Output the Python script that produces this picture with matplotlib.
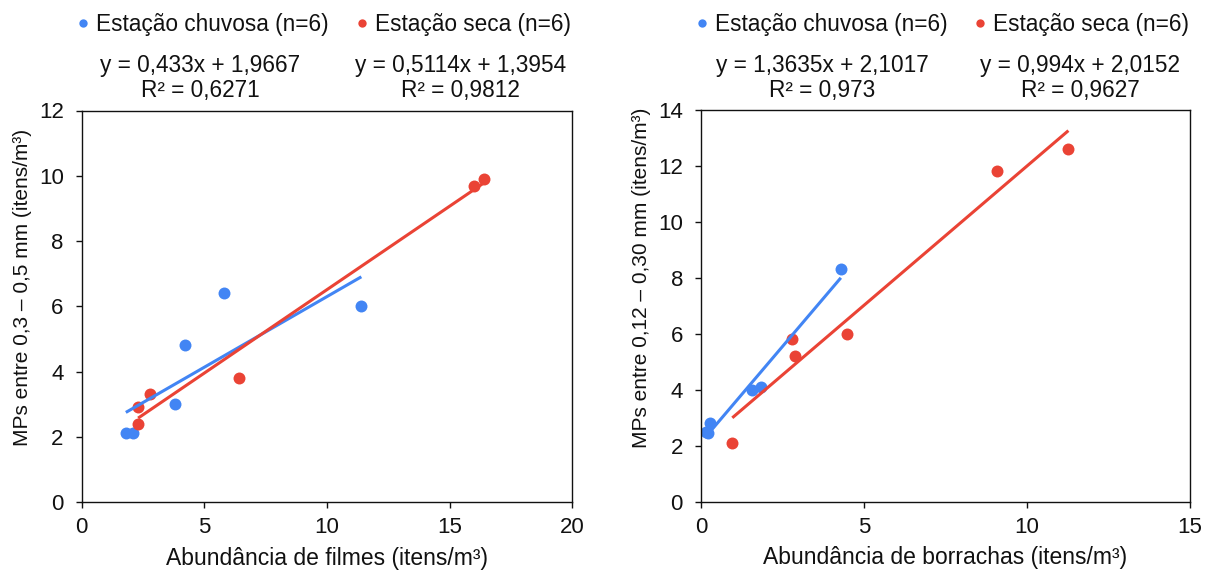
import numpy as np
import matplotlib
matplotlib.use("Agg")
import matplotlib.pyplot as plt
from matplotlib.lines import Line2D

plt.rcParams['font.family'] = ['Liberation Sans', 'DejaVu Sans']

# ---- data ----
# Left panel: filmes
filmes_chuvosa_x = [1.8, 2.1, 3.8, 4.2, 5.8, 11.4]
filmes_chuvosa_y = [2.1, 2.1, 3.0, 4.8, 6.4, 6.0]
filmes_seca_x = [2.3, 2.3, 2.8, 6.4, 16.0, 16.4]
filmes_seca_y = [2.4, 2.9, 3.3, 3.8, 9.7, 9.9]

# Right panel: borrachas
borr_chuvosa_x = [0.15, 0.22, 0.28, 1.57, 1.85, 4.29]
borr_chuvosa_y = [2.5, 2.45, 2.8, 4.0, 4.1, 8.3]
borr_seca_x = [0.96, 2.78, 2.88, 4.48, 9.07, 11.27]
borr_seca_y = [2.1, 5.8, 5.2, 6.0, 11.8, 12.6]

legend_labels = ["Estação chuvosa (n=6)", "Estação seca (n=6)"]
eq_left = [("y = 0,433x + 1,9667", "R² = 0,6271"), ("y = 0,5114x + 1,3954", "R² = 0,9812")]
eq_right = [("y = 1,3635x + 2,1017", "R² = 0,973"), ("y = 0,994x + 2,0152", "R² = 0,9627")]

xlabels = ["Abundância de filmes (itens/m³)", "Abundância de borrachas (itens/m³)"]
ylabels = ["MPs entre 0,3 – 0,5 mm (itens/m³)", "MPs entre 0,12 – 0,30 mm (itens/m³)"]
xticks_left = [0, 5, 10, 15, 20]
yticks_left = [0, 2, 4, 6, 8, 10, 12]
xticks_right = [0, 5, 10, 15]
yticks_right = [0, 2, 4, 6, 8, 10, 12, 14]

BLUE = '#4285F4'
RED = '#EA4335'
TXT = '#111111'

W, H = 1215, 573
fig = plt.figure(figsize=(W / 100, H / 100), dpi=100)

def fx(px):
    return px / W

def fy(py):
    return 1 - py / H

axL = fig.add_axes([fx(81.7), fy(502.0), fx(572.3) - fx(81.7), fy(110.5) - fy(502.0)])
axR = fig.add_axes([fx(701.0), fy(501.7), fx(1190.0) - fx(701.0), fy(109.5) - fy(501.7)])

def draw(ax, cx, cy, sx, sy, xt, yt, xl, yl, ylab_y):
    ax.plot(cx, cy, 'o', color=BLUE, ms=8.6, mec='none', zorder=2)
    ax.plot(sx, sy, 'o', color=RED, ms=8.6, mec='none', zorder=2)
    for xs, ys, c in [(cx, cy, BLUE), (sx, sy, RED)]:
        xs = np.asarray(xs)
        ys = np.asarray(ys)
        m, b = np.polyfit(xs, ys, 1)
        xx = np.array([xs.min(), xs.max()])
        ax.plot(xx, m * xx + b, '-', color=c, lw=2.2, zorder=3, solid_capstyle='butt')
    ax.set_xlim(xt[0], xt[-1])
    ax.set_ylim(yt[0], yt[-1])
    ax.set_xticks(xt)
    ax.set_yticks(yt)
    for s in ax.spines.values():
        s.set_linewidth(1.0)
        s.set_color(TXT)
    ax.tick_params(axis='both', direction='out', length=4.5, width=1.0,
                   labelsize=16, colors=TXT)
    ax.tick_params(axis='x', pad=6.5)
    ax.tick_params(axis='y', pad=8.5)
    ax.set_xlabel(xl, fontsize=16.5, labelpad=6, color=TXT)
    ax.set_ylabel(yl, fontsize=15, color=TXT)
    ax.yaxis.set_label_coords(-0.102, ylab_y)

draw(axL, filmes_chuvosa_x, filmes_chuvosa_y, filmes_seca_x, filmes_seca_y,
     xticks_left, yticks_left, xlabels[0], ylabels[0], 0.548)
draw(axR, borr_chuvosa_x, borr_chuvosa_y, borr_seca_x, borr_seca_y,
     xticks_right, yticks_right, xlabels[1], ylabels[1], 0.572)

handles = [Line2D([], [], ls='none', marker='o', color=BLUE, ms=6, mec='none'),
           Line2D([], [], ls='none', marker='o', color=RED, ms=6, mec='none')]

for ax, x0 in [(axL, 74.4), (axR, 692.8)]:
    ax.legend(handles, legend_labels, ncol=2, loc='center left',
              bbox_to_anchor=(fx(x0), fy(24)), bbox_transform=fig.transFigure,
              frameon=False, fontsize=16.3, handlelength=0.8, handletextpad=0.17,
              columnspacing=1.05, borderpad=0, borderaxespad=0,
              labelcolor=TXT)

for (l1, l2), cx in zip(eq_left + eq_right, [200.5, 460.8, 822.0, 1080.0]):
    fig.text(fx(cx), fy(71.7), l1, ha='center', va='baseline', fontsize=16.3, color=TXT)
    fig.text(fx(cx), fy(96.7), l2, ha='center', va='baseline', fontsize=16.3, color=TXT)

fig.savefig('out.png', dpi=100)
